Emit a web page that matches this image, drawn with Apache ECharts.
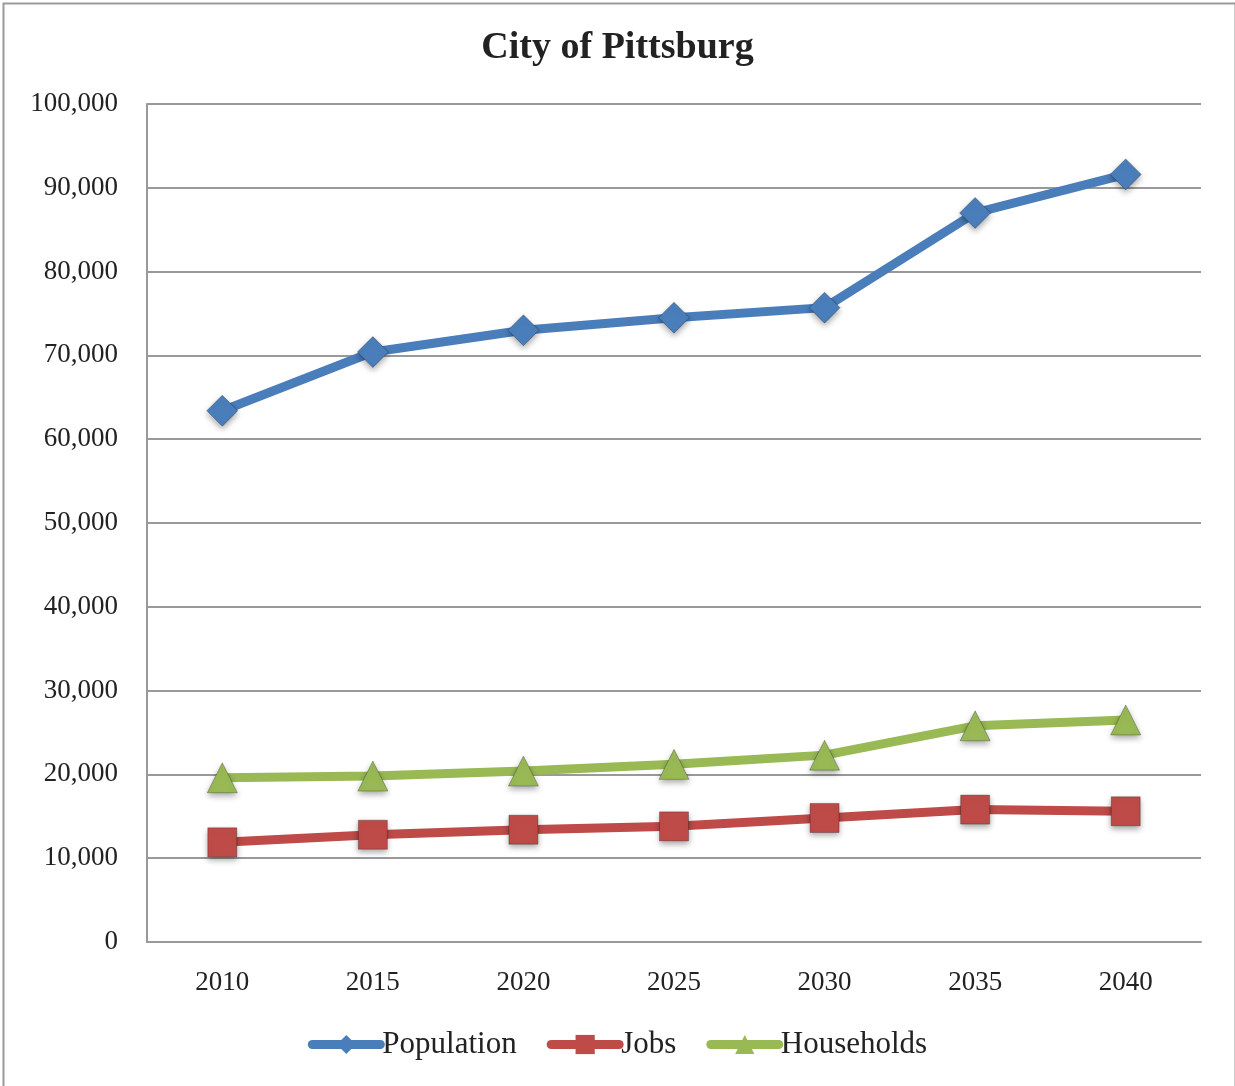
<!DOCTYPE html>
<html>
<head>
<meta charset="utf-8">
<script src="https://cdn.jsdelivr.net/npm/echarts@6/dist/echarts.min.js"></script>
<style>
html,body{margin:0;padding:0;background:#fff;}
#chart{width:1235px;height:1086px;}
</style>
</head>
<body>
<div id="chart"></div>
<script>
const years = ['2010','2015','2020','2025','2030','2035','2040'];
const population = [63400, 70400, 73000, 74500, 75700, 87000, 91600];
const jobs = [11900, 12800, 13400, 13800, 14800, 15800, 15600];
const households = [19600, 19800, 20400, 21200, 22300, 25800, 26500];
const yTicks = { min: 0, max: 100000, interval: 10000 };

const font = "'Liberation Serif', 'DejaVu Serif', serif";
const chart = echarts.init(document.getElementById('chart'), null, {renderer:'canvas'});

function mkSeries(name, data, color, symbol, size) {
  return {
    name: name, type: 'line', data: data,
    symbol: symbol, symbolSize: size,
    lineStyle: { color: color, width: 9 },
    itemStyle: { color: color, borderColor: 'rgba(0,0,0,0.25)', borderWidth: 1,
      shadowColor: 'rgba(0,0,0,0.35)', shadowBlur: 6, shadowOffsetY: 3 },
    emphasis: { disabled: true },
    z: 3
  };
}

chart.setOption({
  animation: false,
  backgroundColor: '#fff',
  graphic: [{
    type: 'rect', left: 1, top: 1, z: -1,
    shape: { width: 1232, height: 1090 },
    style: { fill: 'none', stroke: '#9a9a9a', lineWidth: 2 }
  }],
  title: {
    text: 'City of Pittsburg', left: 'center', top: 24,
    textStyle: { fontFamily: font, fontSize: 38, fontWeight: 'bold', color: '#222' }
  },
  legend: {
    bottom: 21, left: 'center', itemWidth: 68, itemHeight: 24, itemGap: 30,
    data: ['Population', 'Jobs', 'Households'],
    lineStyle: { width: 9, cap: 'round' },
    itemStyle: { shadowBlur: 0, borderWidth: 0 },
    textStyle: { fontFamily: font, fontSize: 31, color: '#222', padding: [0,0,0,-3] }
  },
  grid: { left: 147, right: 34, top: 104, bottom: 144, containLabel: false },
  xAxis: {
    type: 'category', data: years, boundaryGap: true,
    axisLine: { lineStyle: { color: '#999', width: 2 } },
    axisTick: { show: false },
    axisLabel: { fontFamily: font, fontSize: 27, color: '#222', margin: 27 }
  },
  yAxis: {
    type: 'value', min: yTicks.min, max: yTicks.max, interval: yTicks.interval,
    axisLine: { show: true, lineStyle: { color: '#999', width: 2 } },
    axisTick: { show: false },
    splitLine: { lineStyle: { color: '#999', width: 2 } },
    axisLabel: { fontFamily: font, fontSize: 27, color: '#222', margin: 29,
      formatter: v => v.toLocaleString('en-US') }
  },
  series: [
    mkSeries('Population', population, '#4a7ebb', 'diamond', 31),
    mkSeries('Jobs', jobs, '#be4b48', 'rect', 29),
    mkSeries('Households', households, '#98b954', 'triangle', 30)
  ]
});
</script>
</body>
</html>
